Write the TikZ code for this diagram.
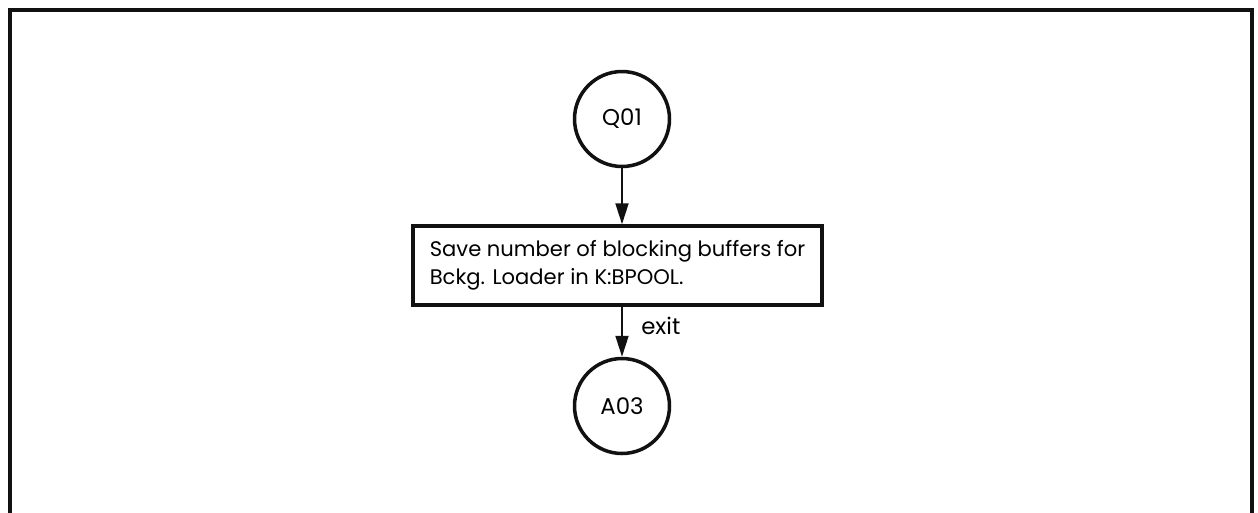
\documentclass[tikz,border=0pt]{standalone}
\usepackage{fontspec}
\setmainfont{Poppins}
\usepackage{xcolor}
\definecolor{cInk}{HTML}{111111}
\usetikzlibrary{positioning,arrows.meta}
\tikzset{
  node-conn/.style={draw=cInk,line width=2pt,circle,minimum size=1.9cm,
    inner sep=0pt,font=\fontsize{13}{15}\selectfont},
  node-box/.style={draw=cInk,line width=2pt,minimum width=8.18cm,
    minimum height=1.58cm,align=left,font=\fontsize{12}{15.9}\selectfont},
  arrow/.style={-{Triangle[length=0.42cm,width=0.26cm]},line width=1.1pt,draw=cInk},
  frame/.style={line width=1.8pt,draw=cInk},
}

\begin{document}
\begin{tikzpicture}[x=0.02cm,y=-0.02cm]
  \useasboundingbox (0,0) rectangle (1258,512);
  \draw[frame] (10,514) -- (10,10) -- (1252,10) -- (1252,514);
  \node[node-conn] (Q01) at (622,119) {Q01};
  \node[node-box] (bpool) at (617.5,265.5) {Save number of blocking buffers for\\Bckg. Loader in K:BPOOL.};
  \node[node-conn] (A03) at (622,406) {A03};
  \draw[arrow] (Q01) -- (Q01 |- bpool.north);
  \draw[arrow] (bpool.south -| A03) -- node[pos=0.38,right=0.25cm,font=\fontsize{13}{15}\selectfont]{exit} (A03);
\end{tikzpicture}
\end{document}
